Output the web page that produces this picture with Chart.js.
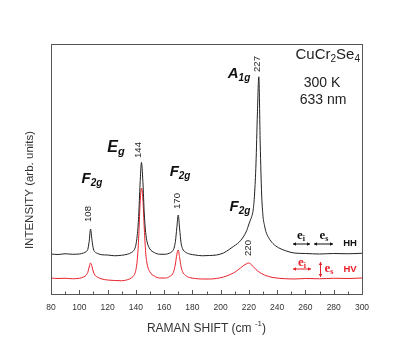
<!DOCTYPE html>
<html>
<head>
<meta charset="utf-8">
<script src="https://cdn.jsdelivr.net/npm/chart.js@4"></script>
<style>
html,body{margin:0;padding:0;background:#fff;}
#wrap{width:409px;height:361px;position:relative;}
</style>
</head>
<body>
<div id="wrap"><canvas id="c" width="409" height="361"></canvas></div>
<script>
// Raman shift (cm^-1)
const shift = [80,85,90,95,100,103,105,106,107,108,109,110,111,113,116,120,125,130,134,137,139,140,141,142,143,144,145,146,147,148,150,153,157,161,164,166,167,168,169,170,171,172,173,175,178,182,187,192,197,202,206,209,212,214,216,218,219,220,221,222,223,224,225,226,227,228,229,230,231,232,234,237,241,246,252,260,270,280,290,300];
// HH spectrum (offset, arb. units)
const hhIntensity = [16.0,15.8,16.1,15.9,16.0,16.4,17.0,17.8,21.0,26.0,21.5,18.0,16.9,16.2,15.7,15.6,15.3,15.5,15.9,16.6,17.8,19.5,23.5,31.0,44.0,52.6,45.0,32.0,24.5,20.8,18.0,16.6,15.9,15.9,16.4,17.2,18.3,21.0,26.5,31.6,26.0,20.5,18.2,16.8,16.0,15.6,15.3,15.4,15.6,16.4,17.8,19.0,20.2,21.3,22.8,24.8,26.2,28.0,29.5,31.0,33.5,40.0,52.0,72.0,86.9,60.0,40.0,31.0,27.5,25.0,22.5,20.2,18.5,17.3,16.4,16.2,16.0,16.2,16.1,16.3];
// HV spectrum (arb. units)
const hvIntensity = [6.4,6.2,6.3,6.1,6.3,6.8,7.6,8.6,10.8,12.4,11.0,8.8,7.6,6.7,6.0,5.6,5.4,5.3,5.7,6.5,7.8,9.5,13.5,22.0,36.0,42.4,38.0,26.0,16.5,12.0,8.8,7.2,6.4,6.4,7.0,8.0,9.4,12.0,15.8,17.6,14.5,11.0,9.0,7.5,6.6,6.2,6.0,6.0,6.2,6.8,7.6,8.4,9.5,10.4,11.3,12.0,12.3,12.4,12.1,11.6,11.0,10.4,9.8,9.3,8.9,8.5,8.2,7.9,7.6,7.4,7.0,6.6,6.3,6.1,6.0,6.2,6.1,6.3,6.2,6.4];
// x tick labels
const xTicks = [80,100,120,140,160,180,200,220,240,260,280,300];
// peak position labels
const peakLabels = ['108','144','170','227','220'];
const peakPositions = [108,144,170,227,220];

const hhData = shift.map((s,i)=>({x:s,y:hhIntensity[i]}));
const hvData = shift.map((s,i)=>({x:s,y:hvIntensity[i]}));

const SANS = '"Liberation Sans", Arial, sans-serif';
const SERIF = '"Liberation Serif", "Times New Roman", serif';

function drawParts(ctx, parts, cx, cy, align){
  let w = 0;
  parts.forEach(p=>{ctx.font=p.font; w += ctx.measureText(p.t).width;});
  let x = align==='right' ? cx - w : (align==='left' ? cx : cx - w/2);
  ctx.textAlign='left';
  ctx.textBaseline='middle';
  parts.forEach(p=>{ctx.font=p.font; ctx.fillText(p.t, x, cy + (p.dy||0)); x += ctx.measureText(p.t).width;});
}

function arrowHead(ctx, x, y, dx, dy){
  const L=3, W=1.8;
  ctx.beginPath();
  ctx.moveTo(x,y);
  ctx.lineTo(x - dx*L - dy*W, y - dy*L + dx*W);
  ctx.lineTo(x - dx*L + dy*W, y - dy*L - dx*W);
  ctx.closePath();
  ctx.fill();
}
function dblArrowH(ctx, x1, x2, y){
  ctx.beginPath(); ctx.moveTo(x1,y); ctx.lineTo(x2,y); ctx.stroke();
  arrowHead(ctx,x1,y,-1,0); arrowHead(ctx,x2,y,1,0);
}
function dblArrowV(ctx, x, y1, y2){
  ctx.beginPath(); ctx.moveTo(x,y1); ctx.lineTo(x,y2); ctx.stroke();
  arrowHead(ctx,x,y1,0,-1); arrowHead(ctx,x,y2,0,1);
}

const deco = {
  id:'deco',
  afterDatasetsDraw(chart){
    const ctx = chart.ctx;
    const a = chart.chartArea;
    const xs = chart.scales.x, ys = chart.scales.y;
    const X = v=>xs.getPixelForValue(v), Y = v=>ys.getPixelForValue(v);
    ctx.save();
    // frame
    ctx.lineWidth = 1;
    ctx.strokeStyle = '#555';
    ctx.strokeRect(Math.round(a.left)+0.5, Math.round(a.top)+0.5, Math.round(a.right-a.left), Math.round(a.bottom-a.top));
    // inward ticks on bottom axis
    for(let v=80; v<=300; v+=10){
      const px = Math.round(X(v))+0.5;
      const len = (v%20===0)?4:2.5;
      ctx.beginPath(); ctx.moveTo(px, a.bottom); ctx.lineTo(px, a.bottom-len); ctx.stroke();
    }
    ctx.fillStyle = '#333';
    // axis titles
    drawParts(ctx,[
      {t:'RAMAN SHIFT (cm ', font:'12px '+SANS},
      {t:'-1', font:'8px '+SANS, dy:-5},
      {t:')', font:'12px '+SANS}
    ], (a.left+a.right)/2, 329, 'center');
    ctx.save();
    ctx.translate(30, 190);
    ctx.rotate(-Math.PI/2);
    ctx.font = '11.5px '+SANS;
    ctx.textAlign='center'; ctx.textBaseline='middle';
    ctx.fillText('INTENSITY (arb. units)', 0, 0);
    ctx.restore();

    // peak position labels (rotated)
    ctx.fillStyle = '#222';
    const labelY = [32, 57.6, 37.2, 92, 18.4];
    const labelDx = [-2, -3, -1, -1, -1];
    peakLabels.forEach((t,i)=>{
      ctx.save();
      ctx.translate(X(peakPositions[i])+labelDx[i], Y(labelY[i]));
      ctx.rotate(-Math.PI/2);
      ctx.font = '9.5px '+SANS;
      ctx.textAlign='center'; ctx.textBaseline='middle';
      ctx.fillText(t,0,0);
      ctx.restore();
    });

    // mode labels
    ctx.fillStyle = '#111';
    const big = 'italic bold 15px '+SANS, small = 'italic bold 10px '+SANS;
    drawParts(ctx,[{t:'F',font:big},{t:'2g',font:small,dy:4}], X(109), Y(46), 'center');
    drawParts(ctx,[{t:'E',font:'italic bold 16px '+SANS},{t:'g',font:'italic bold 11px '+SANS,dy:4}], X(126), Y(58.4), 'center');
    drawParts(ctx,[{t:'F',font:big},{t:'2g',font:small,dy:4}], X(171.3), Y(48.8), 'center');
    drawParts(ctx,[{t:'A',font:big},{t:'1g',font:small,dy:4}], X(213), Y(88), 'center');
    drawParts(ctx,[{t:'F',font:big},{t:'2g',font:small,dy:4}], X(213.7), Y(34.8), 'center');

    // sample info
    ctx.fillStyle = '#222';
    drawParts(ctx,[
      {t:'CuCr',font:'15px '+SANS},{t:'2',font:'10px '+SANS,dy:4},
      {t:'Se',font:'15px '+SANS},{t:'4',font:'10px '+SANS,dy:4}
    ], a.right-2, 55, 'right');
    drawParts(ctx,[{t:'300 K',font:'14px '+SANS}], 322, 83, 'center');
    drawParts(ctx,[{t:'633 nm',font:'14px '+SANS}], 323, 100, 'center');

    // polarization legend HH
    ctx.fillStyle='#111'; ctx.strokeStyle='#111'; ctx.lineWidth=1;
    drawParts(ctx,[{t:'e',font:'bold 13px '+SERIF},{t:'i',font:'bold 8px '+SERIF,dy:3}], 301, 236, 'center');
    dblArrowH(ctx, 293, 310, 244);
    drawParts(ctx,[{t:'e',font:'bold 13px '+SERIF},{t:'s',font:'bold 8px '+SERIF,dy:3}], 324, 236, 'center');
    dblArrowH(ctx, 314, 333, 244);
    drawParts(ctx,[{t:'HH',font:'bold 9.5px '+SANS}], 350, 243, 'center');
    // HV
    ctx.fillStyle='#e8202a'; ctx.strokeStyle='#e8202a';
    drawParts(ctx,[{t:'e',font:'bold 13px '+SERIF},{t:'i',font:'bold 8px '+SERIF,dy:3}], 302, 263, 'center');
    dblArrowH(ctx, 293, 311, 269);
    dblArrowV(ctx, 320.5, 262, 277);
    drawParts(ctx,[{t:'e',font:'bold 13px '+SERIF},{t:'s',font:'bold 8px '+SERIF,dy:3}], 329, 269, 'center');
    drawParts(ctx,[{t:'HV',font:'bold 9.5px '+SANS}], 350, 269, 'center');
    ctx.restore();
  }
};

new Chart(document.getElementById('c'), {
  type:'line',
  data:{
    datasets:[
      {label:'HH', data:hhData, borderColor:'#222', borderWidth:1, pointRadius:0, cubicInterpolationMode:'monotone', fill:false},
      {label:'HV', data:hvData, borderColor:'#e8202a', borderWidth:1, pointRadius:0, cubicInterpolationMode:'monotone', fill:false}
    ]
  },
  options:{
    responsive:false,
    animation:false,
    devicePixelRatio:1,
    layout:{padding:{left:51, right:47, top:44, bottom:0}},
    plugins:{legend:{display:false}, tooltip:{enabled:false}},
    scales:{
      x:{
        type:'linear', min:80, max:300,
        afterBuildTicks:(s)=>{ s.ticks = xTicks.map(v=>({value:v})); },
        afterFit:(s)=>{ s.height = 67; },
        grid:{display:false, drawTicks:false},
        border:{display:false},
        ticks:{font:{family:SANS, size:8.5}, color:'#333', padding:9, maxRotation:0, autoSkip:false}
      },
      y:{
        type:'linear', min:0, max:100, display:false
      }
    }
  },
  plugins:[deco]
});
</script>
</body>
</html>
